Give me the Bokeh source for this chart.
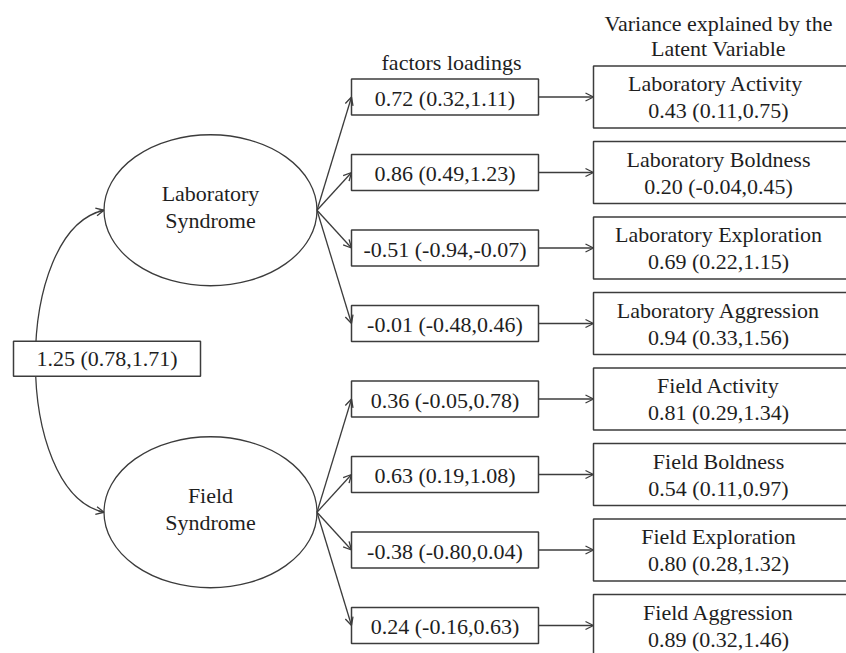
import numpy as np
from bokeh.plotting import figure
from bokeh.models import Range1d, Arrow, OpenHead
from bokeh.core.properties import value
from bokeh.embed import file_html
from bokeh.resources import INLINE

# ---------------- data ----------------
latent_line1 = ["Laboratory", "Field"]
latent_line2 = ["Syndrome", "Syndrome"]
indicator_names = ["Laboratory  Activity", "Laboratory Boldness", "Laboratory Exploration",
                   "Laboratory Aggression", "Field Activity", "Field Boldness",
                   "Field Exploration", "Field Aggression"]
loading_est = [0.72, 0.86, -0.51, -0.01, 0.36, 0.63, -0.38, 0.24]
loading_lo = [0.32, 0.49, -0.94, -0.48, -0.05, 0.19, -0.80, -0.16]
loading_hi = [1.11, 1.23, -0.07, 0.46, 0.78, 1.08, 0.04, 0.63]
var_est = [0.43, 0.20, 0.69, 0.94, 0.81, 0.54, 0.80, 0.89]
var_lo = [0.11, -0.04, 0.22, 0.33, 0.29, 0.11, 0.28, 0.32]
var_hi = [0.75, 0.45, 1.15, 1.56, 1.34, 0.97, 1.32, 1.46]
corr_est, corr_lo, corr_hi = 1.25, 0.78, 1.71
header_loadings = "factors loadings"
header_variance = ["Variance explained by the", "Latent Variable"]

def fmt(e, l, h):
    return f"{e:.2f} ({l:.2f},{h:.2f})"

# ---------------- layout ----------------
W, H = 846, 653
ROW0, ROW_STEP = 96.5, 75.5
n = len(indicator_names)
row_y = ROW0 + ROW_STEP * np.arange(n)
LOAD_L, LOAD_R, LOAD_H = 351, 538, 36
VAR_L, VAR_R, VAR_H = 593, 852, 62
ELL_X, ELL_W, ELL_H = 210, 213, 151
ell_y = [row_y[:4].mean(), row_y[4:].mean()]
CORR_L, CORR_R, CORR_H = 13, 200, 35
corr_y = np.mean(ell_y) - 2.5

FONT = value("'Liberation Serif', 'Times New Roman', 'DejaVu Serif', serif")
FS = value("22px")
TXT = "#1e1e1e"
LINE = "#3c3c3c"

p = figure(width=W, height=H, x_range=Range1d(0, W), y_range=Range1d(H, 0),
           output_backend="svg", toolbar_location=None, min_border=0)
p.axis.visible = False
p.grid.visible = False
p.outline_line_color = None
p.background_fill_color = "white"

def arrow(x0, y0, x1, y1):
    p.add_layout(Arrow(x_start=x0, y_start=y0, x_end=x1, y_end=y1,
                       line_color=LINE, line_width=1.3,
                       end=OpenHead(size=8, line_color=LINE, line_width=1.3)))

# covariance curve
P0 = (ELL_X - ELL_W / 2, ell_y[0])
P3 = (ELL_X - ELL_W / 2, ell_y[1])
C0 = (12, ell_y[0] + 20)
C1 = (12, ell_y[1] - 20)
p.bezier(x0=[P0[0]], y0=[P0[1]], x1=[P3[0]], y1=[P3[1]],
         cx0=[C0[0]], cy0=[C0[1]], cx1=[C1[0]], cy1=[C1[1]],
         line_color=LINE, line_width=1.3)
for P, C in [(P0, C0), (P3, C1)]:
    sx = P[0] + 0.06 * (C[0] - P[0])
    sy = P[1] + 0.06 * (C[1] - P[1])
    arrow(sx, sy, P[0], P[1])

# correlation box
p.quad(left=[CORR_L], right=[CORR_R], top=[corr_y - CORR_H / 2], bottom=[corr_y + CORR_H / 2],
       fill_color="white", line_color=LINE, line_width=1.5)
p.text(x=[(CORR_L + CORR_R) / 2], y=[corr_y], text=[fmt(corr_est, corr_lo, corr_hi)],
       text_font=FONT, text_font_size=FS, text_color=TXT,
       text_align="center", text_baseline="middle")

# latent ellipses
p.ellipse(x=[ELL_X, ELL_X], y=ell_y, width=ELL_W, height=ELL_H,
          fill_color="white", line_color=LINE, line_width=1.3)
p.text(x=[ELL_X, ELL_X], y=[y - 16.5 for y in ell_y], text=latent_line1,
       text_font=FONT, text_font_size=FS, text_color=TXT,
       text_align="center", text_baseline="middle")
p.text(x=[ELL_X, ELL_X], y=[y + 10.5 for y in ell_y], text=latent_line2,
       text_font=FONT, text_font_size=FS, text_color=TXT,
       text_align="center", text_baseline="middle")

# arrows from latents to loading boxes, and loading boxes to variance boxes
for i in range(n):
    ly = ell_y[0] if i < 4 else ell_y[1]
    arrow(ELL_X + ELL_W / 2, ly, LOAD_L, row_y[i])
    arrow(LOAD_R, row_y[i], VAR_L, row_y[i])

# loading boxes
p.quad(left=LOAD_L, right=LOAD_R, top=row_y - LOAD_H / 2, bottom=row_y + LOAD_H / 2,
       fill_color="white", line_color=LINE, line_width=1.5)
p.text(x=(LOAD_L + LOAD_R) / 2, y=row_y + 1,
       text=[fmt(e, l, h) for e, l, h in zip(loading_est, loading_lo, loading_hi)],
       text_font=FONT, text_font_size=FS, text_color=TXT,
       text_align="center", text_baseline="middle")

# variance boxes
p.quad(left=VAR_L, right=VAR_R, top=row_y - VAR_H / 2, bottom=row_y + VAR_H / 2,
       fill_color="white", line_color=LINE, line_width=1.5)
vx = 718
p.text(x=vx, y=row_y - 13.5, text=indicator_names,
       text_font=FONT, text_font_size=FS, text_color=TXT,
       text_align="center", text_baseline="middle")
p.text(x=vx, y=row_y + 13.5,
       text=[fmt(e, l, h) for e, l, h in zip(var_est, var_lo, var_hi)],
       text_font=FONT, text_font_size=FS, text_color=TXT,
       text_align="center", text_baseline="middle")

# headers
p.text(x=[451], y=[62], text=[header_loadings],
       text_font=FONT, text_font_size=FS, text_color=TXT,
       text_align="center", text_baseline="middle")
p.text(x=[vx, vx], y=[23, 48], text=header_variance,
       text_font=FONT, text_font_size=FS, text_color=TXT,
       text_align="center", text_baseline="middle")

open("out.html", "w").write(file_html(p, INLINE))
